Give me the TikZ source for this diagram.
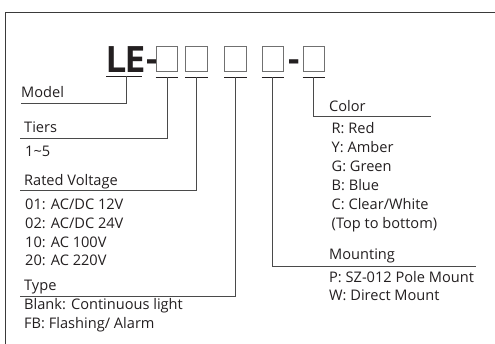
\documentclass[tikz,border=0pt]{standalone}
\usepackage{fontspec}
\setmainfont{Open Sans}
\newfontfamily\lefont{PT Sans}
\definecolor{txt}{HTML}{231F20}
\definecolor{boxgray}{HTML}{707070}
\definecolor{conngray}{HTML}{4A4A4A}
\definecolor{framegray}{HTML}{3A3A3A}
\tikzset{
  lbl/.style={anchor=base west, inner sep=0pt, text=txt, font=\fontsize{14.6}{16}\selectfont},
  codebox/.style={draw=boxgray, line width=1.1pt, minimum width=21.5pt, minimum height=25pt, inner sep=0pt, anchor=north west},
  uline/.style={draw=txt, line width=0.9pt},
  conn/.style={draw=conngray, line width=0.9pt},
  frameline/.style={draw=framegray, line width=1.6pt},
  bigtxt/.style={anchor=base west, inner sep=0pt, text=txt, font=\lefont\bfseries\fontsize{37}{37}\selectfont},
}
\begin{document}
\begin{tikzpicture}[x=1pt,y=-1pt]
\useasboundingbox (0,0) rectangle (495,344);
\draw[frameline] (5.5,344) -- (5.5,12.5) -- (495,12.5);

% code line
\node[bigtxt] (le) at (106.5,72.5) {LE-};
\node[codebox] (b1) at (155.7,45.7) {};
\node[codebox] (b2) at (185.2,45.7) {};
\node[codebox] (b3) at (224,45.7) {};
\node[codebox] (b4) at (261.5,45.7) {};
\node[bigtxt] (dash) at (287,72.5) {-};
\node[codebox] (b5) at (302.5,45.7) {};

% underlines
\coordinate (uLEa) at (106,76); \coordinate (uLEb) at (141.7,76);
\draw[uline] (uLEa) -- (uLEb);
\foreach \b in {b1,b2,b3,b4,b5}{
  \draw[uline] ([yshift=-5.3pt]\b.south west) -- ([yshift=-5.3pt]\b.south east);
}

% label lines (left)
\coordinate (mL) at (20.7,103); \coordinate (mR) at (126.7,103);
\coordinate (tL) at (20,138.3); \coordinate (tR) at (166.7,138.3);
\coordinate (vL) at (20,190.7); \coordinate (vR) at (195.5,190.7);
\coordinate (yL) at (20,296); \coordinate (yR) at (236.7,296);
% label lines (right)
\coordinate (cL) at (315,116.7); \coordinate (cR) at (430.7,116.7);
\coordinate (pL) at (273,266); \coordinate (pR) at (476,266);

\draw[conn] (126.7,76) -- (mR) -- (mL);
\draw[conn] ([yshift=-5.3pt]b1.south) |- (tL);
\draw[conn] ([yshift=-5.3pt]b2.south) |- (vL);
\draw[conn] ([yshift=-5.3pt]b3.south) |- (yL);
\draw[conn] ([yshift=-5.3pt]b4.south) |- (pR);
\draw[conn] ([yshift=-5.3pt]b5.south) |- (cR);

% texts left
\node[lbl] (tModel) at (21,98) {Model};
\node[lbl] (tTiers) at (24,133) {Tiers};
\node[lbl] (t15) at (25,156.7) {1\char"007E 5};
\node[lbl] (tRV) at (24,185.5) {Rated Voltage};
\node[lbl] (v1) at (25,210) {01: AC/DC 12V};
\node[lbl] (v2) at (25,228.7) {02: AC/DC 24V};
\node[lbl] (v3) at (25,247.5) {10: AC 100V};
\node[lbl] (v4) at (25,266) {20: AC 220V};
\node[lbl] (tType) at (24,290.5) {Type};
\node[lbl] (ty1) at (24,310) {Blank: Continuous light};
\node[lbl] (ty2) at (24,328.5) {FB: Flashing/ Alarm};

% texts right
\node[lbl] (tColor) at (329,112) {Color};
\node[lbl] (c1) at (331.5,133.3) {R: Red};
\node[lbl] (c2) at (331.5,152.5) {Y: Amber};
\node[lbl] (c3) at (331.5,171.7) {G: Green};
\node[lbl] (c4) at (331.5,190.7) {B: Blue};
\node[lbl] (c5) at (331.5,210) {C: Clear/White};
\node[lbl] (c6) at (331.5,228.5) {(Top to bottom)};
\node[lbl] (tMount) at (329,260) {Mounting};
\node[lbl] (m1) at (329,282.7) {P: SZ-012 Pole Mount};
\node[lbl] (m2) at (329,301) {W: Direct Mount};
\end{tikzpicture}
\end{document}
